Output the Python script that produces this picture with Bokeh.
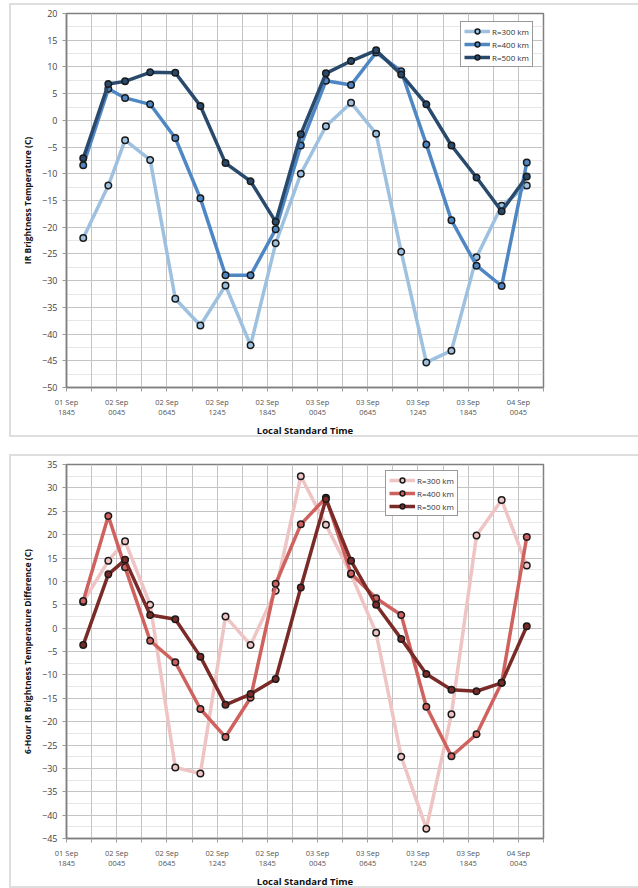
import pandas as pd
from bokeh.plotting import figure
from bokeh.layouts import column
from bokeh.models import FixedTicker, Legend, LegendItem
from bokeh.embed import file_html
from bokeh.resources import INLINE

# ---------------- data ----------------
times = ["01 Sep 2045", "01 Sep 2345", "02 Sep 0145", "02 Sep 0445", "02 Sep 0745",
         "02 Sep 1045", "02 Sep 1345", "02 Sep 1645", "02 Sep 1945", "02 Sep 2245",
         "03 Sep 0145", "03 Sep 0445", "03 Sep 0745", "03 Sep 1045", "03 Sep 1345",
         "03 Sep 1645", "03 Sep 1945", "03 Sep 2245", "04 Sep 0145"]
tick_times = ["01 Sep 1845", "02 Sep 0045", "02 Sep 0645", "02 Sep 1245", "02 Sep 1845",
              "03 Sep 0045", "03 Sep 0645", "03 Sep 1245", "03 Sep 1845", "04 Sep 0045"]
series_names = ["R=300 km", "R=400 km", "R=500 km"]

temp_300 = [-22.0, -12.2, -3.7, -7.4, -33.4, -38.4, -30.9, -42.1, -23.0, -10.0,
            -1.1, 3.3, -2.5, -24.6, -45.3, -43.1, -25.6, -16.0, -12.2]
temp_400 = [-8.4, 5.9, 4.2, 3.0, -3.3, -14.6, -29.0, -29.0, -20.4, -4.7,
            7.4, 6.6, 12.7, 9.2, -4.5, -18.7, -27.2, -31.0, -7.9]
temp_500 = [-7.1, 6.8, 7.3, 9.0, 8.9, 2.7, -8.0, -11.4, -19.0, -2.6,
            8.8, 11.1, 13.1, 8.6, 3.0, -4.7, -10.7, -17.0, -10.5]

diff_300 = [5.6, 14.4, 18.6, 5.0, -29.8, -31.1, 2.5, -3.6, 8.0, 32.5,
            22.1, 11.5, -1.0, -27.5, -42.9, -18.4, 19.8, 27.4, 13.4]
diff_400 = [5.8, 24.0, 13.0, -2.7, -7.3, -17.3, -23.3, -14.9, 9.5, 22.2,
            27.9, 11.7, 6.4, 2.8, -16.8, -27.4, -22.7, -11.7, 19.5]
diff_500 = [-3.6, 11.5, 14.6, 2.8, 1.9, -6.1, -16.4, -14.1, -10.9, 8.7,
            27.6, 14.4, 5.0, -2.3, -9.8, -13.2, -13.5, -11.7, 0.4]

temp_colors = ["#9fc1e0", "#4f87c4", "#2a4a6d"]
diff_colors = ["#efc4c4", "#cf625f", "#7a2b28"]


def hours(labels):
    t = pd.to_datetime(["2014 " + s for s in labels], format="%Y %d %b %H%M")
    t0 = pd.Timestamp("2014-09-01 18:45")
    return [(v - t0).total_seconds() / 3600.0 for v in t]


x = hours(times)
tx = hours(tick_times)
x_end = tx[-1] + 3
tick_labels = {v: s[:6] + "\n" + s[7:] for v, s in zip(tx, tick_times)}

FONT = "Open Sans"


def make_fig(ylo, yhi, ylabel, series, colors, legend_xy):
    p = figure(width=631, height=434, output_backend="svg", toolbar_location=None,
               x_range=(0, x_end), y_range=(ylo, yhi),
               min_border_left=55, min_border_right=99, min_border_top=8, min_border_bottom=40,
               background_fill_color="white", border_fill_color="white")
    p.styles = {"border": "2px solid #dedede", "box-sizing": "border-box"}
    p.outline_line_color = "#7f7f7f"
    p.outline_line_width = 1.5

    # x axis
    minors = [v + 3 for v in tx]
    p.xaxis.ticker = FixedTicker(ticks=tx, minor_ticks=minors)
    p.xaxis.major_label_overrides = tick_labels
    p.xaxis.major_label_text_font = FONT
    p.xaxis.major_label_text_font_size = "7.5px"
    p.xaxis.major_label_text_color = "#555555"
    p.xaxis.major_label_text_line_height = 1.0
    p.xaxis.major_tick_out = 4
    p.xaxis.major_tick_in = 0
    p.xaxis.minor_tick_out = 4
    p.xaxis.minor_tick_in = 0
    p.xaxis.axis_label = "Local Standard Time"
    p.xaxis.axis_label_text_font = FONT
    p.xaxis.axis_label_text_font_style = "bold"
    p.xaxis.axis_label_text_font_size = "9.5px"
    p.xaxis.axis_label_text_color = "#111111"
    p.xaxis.axis_label_standoff = 4
    p.xgrid.ticker = FixedTicker(ticks=sorted(tx + minors))

    # y axis
    yt = list(range(ylo, yhi + 1, 5))
    ym = [v + 2.5 for v in yt[:-1]]
    p.yaxis.ticker = FixedTicker(ticks=yt, minor_ticks=ym)
    p.yaxis.major_label_text_font = FONT
    p.yaxis.major_label_text_font_size = "9px"
    p.yaxis.major_label_text_color = "#444444"
    p.yaxis.major_tick_out = 4
    p.yaxis.major_tick_in = 0
    p.yaxis.minor_tick_out = 0
    p.yaxis.minor_tick_in = 0
    p.yaxis.axis_label = ylabel
    p.yaxis.axis_label_text_font = FONT
    p.yaxis.axis_label_text_font_style = "bold"
    p.yaxis.axis_label_text_font_size = "8.5px"
    p.yaxis.axis_label_text_color = "#111111"
    p.yaxis.axis_label_standoff = 6

    for ax in (p.xaxis, p.yaxis):
        ax.axis_line_color = "#7f7f7f"
        ax.axis_line_width = 1.5
        ax.major_tick_line_color = "#9a9a9a"
        ax.minor_tick_line_color = "#9a9a9a"

    p.grid.grid_line_color = "#c4c4c4"
    p.grid.grid_line_width = 1
    p.ygrid.minor_grid_line_color = "#cfcfcf"
    p.ygrid.minor_grid_line_dash = "1 1"
    p.ygrid.minor_grid_line_width = 1

    items = []
    for name, ys, c in zip(series_names, series, colors):
        r1 = p.line(x, ys, line_color=c, line_width=3.5)
        r2 = p.scatter(x, ys, marker="circle", size=6.5, fill_color=c,
                       line_color="#1a1a1a", line_width=1.5)
        items.append(LegendItem(label=name, renderers=[r1, r2]))

    leg = Legend(items=items, location=legend_xy)
    leg.label_text_font = FONT
    leg.label_text_font_size = "8px"
    leg.label_text_color = "#333333"
    leg.glyph_width = 26
    leg.glyph_height = 12
    leg.label_height = 12
    leg.label_standoff = 2
    leg.spacing = 1
    leg.padding = 3
    leg.margin = 0
    leg.border_line_color = "#333333"
    leg.border_line_width = 1
    leg.background_fill_color = "white"
    leg.background_fill_alpha = 1
    p.add_layout(leg)
    return p


p1 = make_fig(-50, 20, "IR Brightness Temperature (C)",
              [temp_300, temp_400, temp_500], temp_colors, (394, 320))
p2 = make_fig(-45, 35, "6-Hour IR Brightness Temperature Difference (C)",
              [diff_300, diff_400, diff_500], diff_colors, (319, 322))

layout = column(p1, p2, spacing=17)
layout.margin = (3, 0, 0, 9)

open("out.html", "w").write(file_html(layout, INLINE))
